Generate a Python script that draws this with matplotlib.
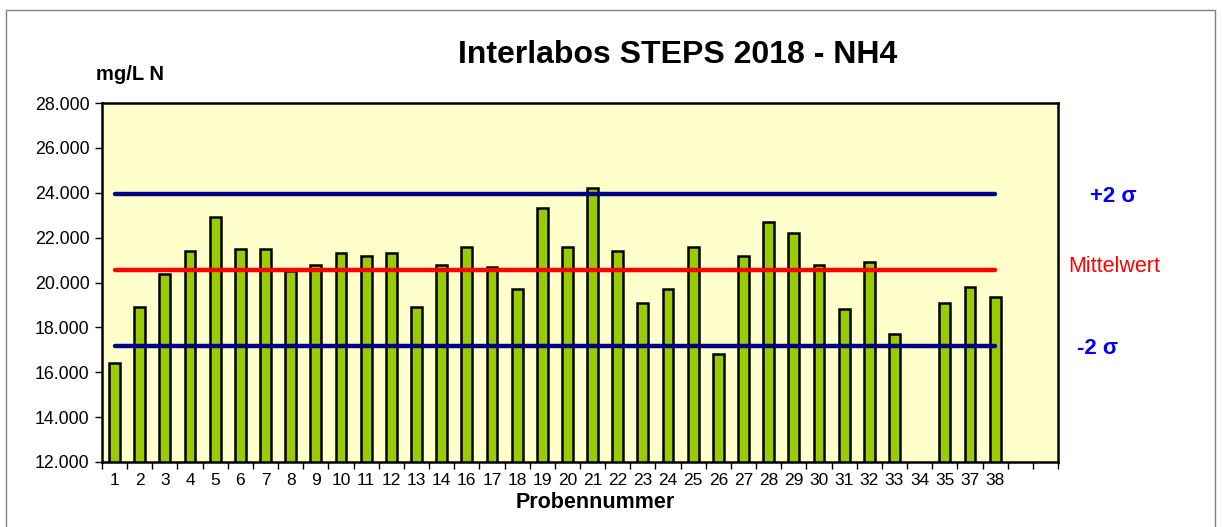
import numpy as np
import matplotlib
matplotlib.use("Agg")
import matplotlib.pyplot as plt
from matplotlib.patches import Rectangle
from matplotlib.ticker import FixedLocator, FuncFormatter

plt.rcParams["font.family"] = ["Liberation Sans", "DejaVu Sans"]

# sample numbers and measured NH4 (mg/L N); sample 34 has no result
samples = ["1", "2", "3", "4", "5", "6", "7", "8", "9", "10", "11", "12", "13", "14",
           "16", "17", "18", "19", "20", "21", "22", "23", "24", "25", "26", "27",
           "28", "29", "30", "31", "32", "33", "34", "35", "37", "38"]
nh4 = [16.4, 18.9, 20.4, 21.4, 22.9, 21.5, 21.5, 20.5, 20.8, 21.3, 21.2, 21.3, 18.9, 20.8,
       21.6, 20.7, 19.7, 23.3, 21.6, 24.2, 21.4, 19.1, 19.7, 21.6, 16.8, 21.2,
       22.7, 22.2, 20.8, 18.8, 20.9, 17.7, np.nan, 19.1, 19.8, 19.35]
mean_val = 20.55
plus2s = 23.95
minus2s = 17.15
n_slots = 38          # two empty categories at the right end

W, H = 1223, 527
fig = plt.figure(figsize=(W / 100, H / 100), dpi=100)
fig.patches.append(Rectangle((6 / W, -0.02), (1215 - 6) / W, 1.02 - 10 / H,
                             transform=fig.transFigure, fill=False,
                             edgecolor="#808080", lw=1.0))

ax = fig.add_axes([102 / W, 1 - 462 / H, (1058 - 102) / W, (462 - 103) / H])
ax.set_facecolor("#FFFFCC")

x = np.arange(len(samples))
ax.bar(x, nh4, width=0.43, bottom=0, color="#99CC00", edgecolor="black", lw=1.8, zorder=2)

for val, col in [(plus2s, "#000080"), (mean_val, "#FF0000"), (minus2s, "#000080")]:
    ax.plot([x[0], x[-1]], [val, val], color=col, lw=3.2, solid_capstyle="round", zorder=3)

ax.set_xlim(-0.5, n_slots - 0.5)
ax.set_ylim(12, 28)
ax.set_yticks(np.arange(12, 28.1, 2))
ax.yaxis.set_major_formatter(FuncFormatter(lambda v, p: f"{v:.3f}"))
ax.tick_params(axis="y", labelsize=12.8, length=5, width=1, direction="out", pad=4)

# tick marks on category boundaries, labels on category centres
ax.xaxis.set_major_locator(FixedLocator(np.arange(-0.5, n_slots, 1.0)))
ax.xaxis.set_major_formatter(FuncFormatter(lambda v, p: ""))
ax.xaxis.set_minor_locator(FixedLocator(x))
ax.set_xticklabels(samples, minor=True)
ax.tick_params(axis="x", which="major", length=5, width=1, direction="out")
ax.tick_params(axis="x", which="minor", length=0, labelsize=12.5, pad=8)

for s in ax.spines.values():
    s.set_linewidth(1.8)
    s.set_color("black")

fig.text(678 / W, 1 - 55 / H, "Interlabos STEPS 2018 - NH4", ha="center", va="center",
         fontsize=23, fontweight="bold")
fig.text(96 / W, 1 - 75 / H, "mg/L N", ha="left", va="center",
         fontsize=14.5, fontweight="bold")
fig.text(595 / W, 1 - 503 / H, "Probennummer", ha="center", va="center",
         fontsize=15.5, fontweight="bold")

fig.text(1113 / W, 1 - 197 / H, "+2 σ", ha="center", va="center",
         fontsize=16, fontweight="bold", color="#0000FF")
fig.text(1114 / W, 1 - 266 / H, "Mittelwert", ha="center", va="center",
         fontsize=15.5, color="#FF0000")
fig.text(1098 / W, 1 - 348 / H, "-2 σ", ha="center", va="center",
         fontsize=16, fontweight="bold", color="#0000FF")

fig.savefig("out.png", dpi=100)
